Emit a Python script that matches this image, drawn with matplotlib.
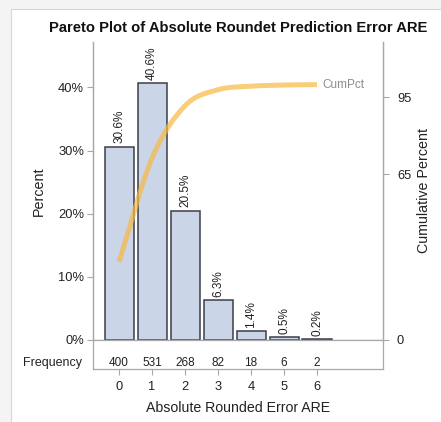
import matplotlib
matplotlib.use("Agg")
import matplotlib.pyplot as plt
from matplotlib.patches import Rectangle, PathPatch
from matplotlib.path import Path
import numpy as np

plt.rcParams['font.family'] = ['Liberation Sans', 'DejaVu Sans']

# Data
categories = [0, 1, 2, 3, 4, 5, 6]
frequency = [400, 531, 268, 82, 18, 6, 2]
right_ticks = [0, 65, 95]
left_ticks = [0, 10, 20, 30, 40]

total = sum(frequency)
percent = [100.0 * f / total for f in frequency]
cum_pct = list(np.cumsum(percent))

W, H = 441, 422
fig = plt.figure(figsize=(W / 100, H / 100), dpi=100)
fig.patch.set_facecolor('#f4f4f4')

# white panel behind the graph
fig.add_artist(Rectangle((11 / W, -0.01), 1.0, (H - 9) / H + 0.01,
                         transform=fig.transFigure, facecolor='white',
                         edgecolor='#d6d6d6', linewidth=0.8, zorder=-10))

axis_col = '#a8a8a8'
text_col = '#222222'

left, right = 93 / W, 383 / W
top_px, zero_px, freq_px = 42, 340, 369
ax = fig.add_axes([left, (H - zero_px) / H, right - left, (zero_px - top_px) / H])
axf = fig.add_axes([left, (H - freq_px) / H, right - left, (freq_px - zero_px) / H])
ax2 = ax.twinx()

xlim = (-0.79, 8.0)
ax.set_xlim(*xlim)
axf.set_xlim(*xlim)
ax.set_ylim(0, 47.2)
ax2.set_ylim(0, 116.7)

# bars
ax.bar(categories, percent, width=0.88, color='#cad6e8', edgecolor='#3a3f4a',
       linewidth=1.1, zorder=2)
for x, p in zip(categories, percent):
    ax.annotate(f'{p:.1f}%', (x, p), xytext=(0, 2.5), textcoords='offset points',
                rotation=90, ha='center', va='bottom', fontsize=8.5,
                color=text_col, zorder=4)

# cumulative percent curve, smoothed with Catmull-Rom Bezier segments
xs = np.array(categories, dtype=float)
ys = np.array(cum_pct)
n = len(xs)
verts = [(xs[0], ys[0])]
codes = [Path.MOVETO]
for i in range(n - 1):
    p_prev = (xs[i - 1], ys[i - 1]) if i > 0 else (xs[i], ys[i])
    p0 = (xs[i], ys[i])
    p1 = (xs[i + 1], ys[i + 1])
    p_next = (xs[i + 2], ys[i + 2]) if i + 2 < n else (xs[i + 1], ys[i + 1])
    s0 = 6.0 if i > 0 else 3.0
    s1 = 6.0 if i + 2 < n else 3.0
    c1 = (p0[0] + (p1[0] - p_prev[0]) / s0, p0[1] + (p1[1] - p_prev[1]) / s0)
    c2 = (p1[0] - (p_next[0] - p0[0]) / s1, p1[1] - (p_next[1] - p0[1]) / s1)
    verts += [c1, c2, p1]
    codes += [Path.CURVE4] * 3
ax2.add_patch(PathPatch(Path(verts, codes), facecolor='none',
                        edgecolor='#f8b840', linewidth=3.6, alpha=0.7,
                        capstyle='butt', zorder=3))
ax2.annotate('CumPct', (xs[-1], ys[-1]), xytext=(4, 0),
             textcoords='offset points', ha='left', va='center',
             fontsize=8.5, color='#8c8c8c')

# spines / ticks of the main panel
for a in (ax, ax2):
    a.spines['top'].set_visible(False)
    for s in ('left', 'right', 'bottom'):
        a.spines[s].set_color(axis_col)
        a.spines[s].set_linewidth(0.9)
ax.set_xticks([])
ax.set_yticks(left_ticks)
ax.set_yticklabels([f'{t}%' for t in left_ticks])
ax.tick_params(axis='y', direction='out', length=4.5, width=0.8,
               color=axis_col, labelsize=9.3, labelcolor=text_col, pad=2)
ax2.set_yticks(right_ticks)
ax2.set_yticklabels([str(t) for t in right_ticks])
ax2.tick_params(axis='y', direction='out', length=4, width=0.8,
                color=axis_col, labelsize=9.3, labelcolor=text_col, pad=6)
ax.set_ylabel('Percent', fontsize=10.3, color=text_col)
ax.yaxis.set_label_coords((39 - 93) / 290, 0.5)
ax.yaxis.label.set_va('center')
ax2.set_ylabel('Cumulative Percent', fontsize=10.3, color=text_col)
ax2.yaxis.set_label_coords((424 - 93) / 290, 0.5)
ax2.yaxis.label.set_va('center')

# frequency table strip
axf.set_ylim(0, 1)
axf.set_yticks([])
axf.spines['top'].set_visible(False)
for s in ('left', 'right', 'bottom'):
    axf.spines[s].set_color(axis_col)
    axf.spines[s].set_linewidth(0.9)
freq_y = 0.22
for x, f in zip(categories, frequency):
    axf.text(x, freq_y, str(f), ha='center', va='center', fontsize=8.5,
             color=text_col)
axf.text(-0.038, freq_y, 'Frequency', transform=axf.transAxes, ha='right',
         va='center', fontsize=9, color=text_col)
axf.set_xticks(categories)
axf.set_xticklabels([str(c) for c in categories])
axf.tick_params(axis='x', direction='out', length=4, width=0.8,
                color=axis_col, labelsize=9.3, labelcolor=text_col, pad=5)
axf.set_xlabel('Absolute Rounded Error ARE', fontsize=10.2, color=text_col)
axf.xaxis.set_label_coords(0.5, (369 - 408) / 29)
axf.xaxis.label.set_va('center')

fig.text((left + right) / 2, (H - 28) / H,
         'Pareto Plot of Absolute Roundet Prediction Error ARE',
         ha='center', va='center', fontsize=10.6, fontweight='bold',
         color='#111111')

fig.savefig('out.png', dpi=100, facecolor=fig.get_facecolor())
